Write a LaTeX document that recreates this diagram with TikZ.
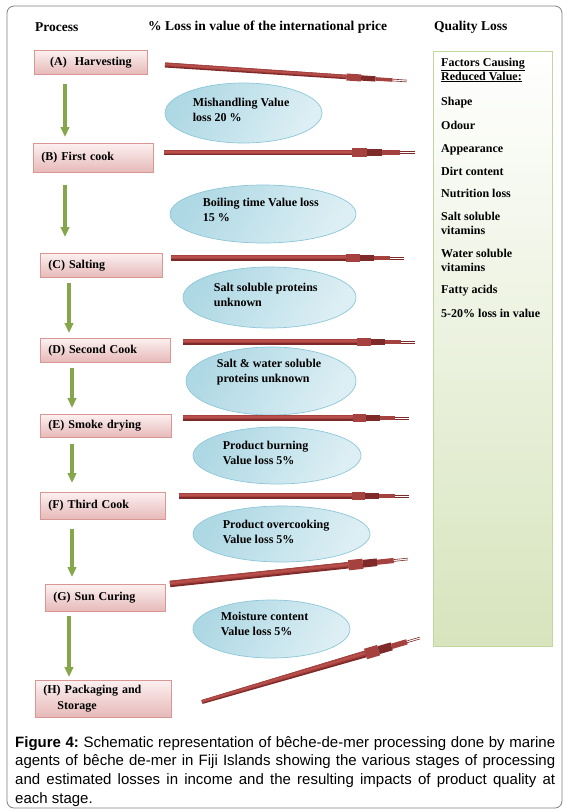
\documentclass[tikz,border=0pt]{standalone}
\usepackage{fontspec}
\setmainfont{Liberation Serif}
\newfontfamily\capfont{Liberation Sans}
\usetikzlibrary{positioning,arrows.meta,calc,shapes.geometric}
\definecolor{frameline}{HTML}{7F7F7F}
\definecolor{boxtop}{HTML}{FCF0F0}
\definecolor{boxbottom}{HTML}{E6B9B8}
\definecolor{boxline}{HTML}{D99694}
\definecolor{bubbledark}{HTML}{AED8E4}
\definecolor{bubblelight}{HTML}{DDEFF4}
\definecolor{bubbleline}{HTML}{8CC7D8}
\definecolor{losslight}{HTML}{B9504C}
\definecolor{lossmid}{HTML}{A5413E}
\definecolor{lossdark}{HTML}{7E2A28}
\definecolor{stepgreen}{HTML}{86A64B}
\definecolor{panelline}{HTML}{C3D69B}
\definecolor{panelbottom}{HTML}{D7E4BD}
\definecolor{paneledge}{HTML}{76923C}
\tikzset{
  procbox/.style={draw=boxline, line width=0.8pt, top color=boxtop, bottom color=boxbottom, anchor=north west, inner xsep=8pt, inner ysep=0pt, align=left, font=\bfseries\fontsize{12}{16}\selectfont,
    path picture={\draw[densely dotted, black!75, line width=1.2pt] (path picture bounding box.south west) -- (path picture bounding box.south east);}},
  stepflow/.style={-{Triangle[width=8.5pt, length=10pt]}, line width=4pt, stepgreen},
  lossbubble/.style={ellipse, draw=bubbleline, line width=0.7pt, left color=bubbledark, right color=bubblelight, shading angle=60, inner sep=0pt},
  bubbletext/.style={anchor=west, align=left, inner sep=0pt, font=\bfseries\fontsize{12}{15}\selectfont},
  headtext/.style={anchor=west, inner sep=0pt, font=\bfseries\fontsize{13.5}{16}\selectfont},
  factorpanel/.style={draw=panelline, line width=0.8pt, top color=white, bottom color=panelbottom, anchor=north west, minimum width=119pt, minimum height=595pt, inner sep=0pt,
    path picture={\draw[densely dotted, paneledge, line width=1.4pt] (path picture bounding box.south west) -- (path picture bounding box.south east);}},
  factortext/.style={anchor=north west, align=left, inner sep=0pt, font=\bfseries\fontsize{12}{14}\selectfont},
  captext/.style={anchor=north west, text width=540pt, align=justify, inner sep=0pt, font=\capfont\fontsize{15}{18.7}\selectfont\frenchspacing}
}
% stylised loss arrow: tail, tip, tail half width, shaft half width
\newcommand\lossarrow[4]{%
  \coordinate (la1) at ($(#1)!0.75!(#2)$);
  \coordinate (la2) at ($(#1)!0.81!(#2)$);
  \coordinate (la3) at ($(#1)!0.87!(#2)$);
  \coordinate (la4) at ($(#1)!0.94!(#2)$);
  \fill[lossdark] ($(#1)!#3pt!90:(#2)$) -- ($(la1)!#4pt!90:(#2)$) -- ($(la1)!#4pt!-90:(#2)$) -- ($(#1)!#3pt!-90:(#2)$) -- cycle;
  \fill[lossmid] ($(#1)!#3pt!90:(#2)$) -- ($(la1)!#4pt!90:(#2)$) -- ($(la1)!0.45*#4pt!-90:(#2)$) -- ($(#1)!0.45*#3pt!-90:(#2)$) -- cycle;
  \fill[losslight] ($(#1)!0.6*#3pt!90:(#2)$) -- ($(la1)!0.6*#4pt!90:(#2)$) -- (la1) -- (#1) -- cycle;
  \draw[lossmid, line width=3.2*#4pt] (la1) -- (la2);
  \draw[lossdark, line width=2.4*#4pt] (la2) -- (la3);
  \draw[lossmid, line width=1.6*#4pt] (la3) -- (la4);
  \draw[lossdark, line width=0.6pt] ($(la4)!0.9pt!90:(#2)$) -- ($(#2)!0.9pt!-90:(#1)$);
  \draw[lossdark, line width=0.6pt] ($(la4)!0.9pt!-90:(#2)$) -- ($(#2)!0.9pt!90:(#1)$);
}

\begin{document}
\begin{tikzpicture}[x=1pt, y=-1pt]
  \useasboundingbox (0,0) rectangle (569,812);
  \draw[frameline, line width=0.8pt, rounded corners=7pt] (7,6) rectangle (562,808);

  % column heads
  \node[headtext] (hproc) at (35,27) {Process};
  \node[headtext] (hloss) at (148,27) {\% Loss in value of the international price};
  \node[headtext] (hqual) at (434,27) {Quality Loss};

  % quality loss panel
  \node[factorpanel] (qpanel) at (433,51) {};
  \node[factortext] (qlist) at (441,57.5) {\underline{Factors Causing}\\\underline{Reduced Value:}\\[11pt]Shape\\[10pt]Odour\\[9pt]Appearance\\[9pt]Dirt content\\[8pt]Nutrition loss\\[9pt]Salt soluble\\vitamins\\[9pt]Water soluble\\vitamins\\[8pt]Fatty acids\\[10pt]5-20\% loss in value};

  % process steps
  \node[procbox, text width=97pt, minimum height=24pt, align=center] (harvest) at (34,50) {(A)\ \ Harvesting};
  \node[procbox, text width=104pt, minimum height=29pt] (firstcook) at (33,143) {(B) First cook};
  \node[procbox, text width=106pt, minimum height=24pt] (salting) at (40,253) {(C) Salting};
  \node[procbox, text width=114pt, minimum height=24pt] (secondcook) at (40,338) {(D) Second Cook};
  \node[procbox, text width=115pt, minimum height=23pt] (smokedry) at (40,414) {(E) Smoke drying};
  \node[procbox, text width=109pt, minimum height=27pt] (thirdcook) at (40,492) {(F) Third Cook};
  \node[procbox, text width=104pt, minimum height=27pt] (suncure) at (45,584) {(G) Sun Curing};
  \node[procbox, text width=120pt, minimum height=37pt] (packaging) at (35,680) {(H) Packaging and\\\hspace*{14pt}Storage};

  % step arrows
  \draw[stepflow, shorten <=9pt, shorten >=6pt] (harvest.south -| 65,0) -- (firstcook.north -| 65,0);
  \draw[stepflow, shorten <=12pt, shorten >=16pt] (firstcook.south -| 65,0) -- (salting.north -| 65,0);
  \draw[stepflow, shorten <=5pt, shorten >=5pt] (salting.south -| 69,0) -- (secondcook.north -| 69,0);
  \draw[stepflow, shorten <=5pt, shorten >=6pt] (secondcook.south -| 72,0) -- (smokedry.north -| 72,0);
  \draw[stepflow, shorten <=6pt, shorten >=9pt] (smokedry.south -| 72,0) -- (thirdcook.north -| 72,0);
  \draw[stepflow, shorten <=9pt, shorten >=7pt] (thirdcook.south -| 72,0) -- (suncure.north -| 72,0);
  \draw[stepflow, shorten <=4pt, shorten >=3pt] (suncure.south -| 69,0) -- (packaging.north -| 69,0);

  % value loss bubbles
  \node[lossbubble, minimum width=157pt, minimum height=60pt] (mishandle) at (243.5,113) {};
  \node[bubbletext] (mishandle-t) at ($(mishandle.west)+(28,-3.5)$) {Mishandling Value\\loss 20 \%};
  \node[lossbubble, minimum width=186pt, minimum height=58pt] (boiling) at (263,214) {};
  \node[bubbletext] (boiling-t) at ($(boiling.west)+(33,-4)$) {Boiling time Value loss\\15 \%};
  \node[lossbubble, minimum width=173pt, minimum height=61pt] (saltprot) at (269.5,297.5) {};
  \node[bubbletext] (saltprot-t) at ($(saltprot.west)+(31,-3)$) {Salt soluble proteins\\unknown};
  \node[lossbubble, minimum width=170pt, minimum height=68pt] (waterprot) at (271,381) {};
  \node[bubbletext] (waterprot-t) at ($(waterprot.west)+(31,-9)$) {Salt \& water soluble\\proteins unknown};
  \node[lossbubble, minimum width=168pt, minimum height=57pt] (burning) at (277,455.5) {};
  \node[bubbletext] (burning-t) at ($(burning.west)+(30,-3)$) {Product burning\\Value loss 5\%};
  \node[lossbubble, minimum width=177pt, minimum height=56pt] (overcook) at (281.5,534) {};
  \node[bubbletext] (overcook-t) at ($(overcook.west)+(30,-2.5)$) {Product overcooking\\Value loss 5\%};
  \node[lossbubble, minimum width=157pt, minimum height=58pt] (moisture) at (271.5,629) {};
  \node[bubbletext] (moisture-t) at ($(moisture.west)+(28,-5.5)$) {Moisture content\\Value loss 5\%};

  % loss arrows towards the quality panel
  \coordinate (tailA) at (165,65);    \coordinate (tipA) at (407,81);
  \coordinate (tailB) at (164,152.5); \coordinate (tipB) at (415,152.5);
  \coordinate (tailC) at (171,258);   \coordinate (tipC) at (404,258);
  \coordinate (tailD) at (183,342);   \coordinate (tipD) at (415,342);
  \coordinate (tailE) at (183,418);   \coordinate (tipE) at (409,418);
  \coordinate (tailF) at (179,496);   \coordinate (tipF) at (409,496);
  \coordinate (tailG) at (170,584);   \coordinate (tipG) at (408,559);
  \coordinate (tailH) at (202,702);   \coordinate (tipH) at (420,638);
  \lossarrow{tailA}{tipA}{2.5}{2.2}
  \lossarrow{tailB}{tipB}{2.8}{2.8}
  \lossarrow{tailC}{tipC}{2.8}{2.8}
  \lossarrow{tailD}{tipD}{2.8}{2.8}
  \lossarrow{tailE}{tipE}{2.8}{2.8}
  \lossarrow{tailF}{tipF}{2.8}{2.8}
  \lossarrow{tailG}{tipG}{3.2}{3.2}
  \lossarrow{tailH}{tipH}{2.0}{3.4}

  % caption
  \node[captext] (cap) at (15,736) {\textbf{Figure 4:} Schematic representation of bêche-de-mer processing done by marine\linebreak agents of bêche de-mer in Fiji Islands showing the various stages of processing\linebreak and estimated losses in income and the resulting impacts of product quality at\linebreak each stage.};
\end{tikzpicture}
\end{document}
